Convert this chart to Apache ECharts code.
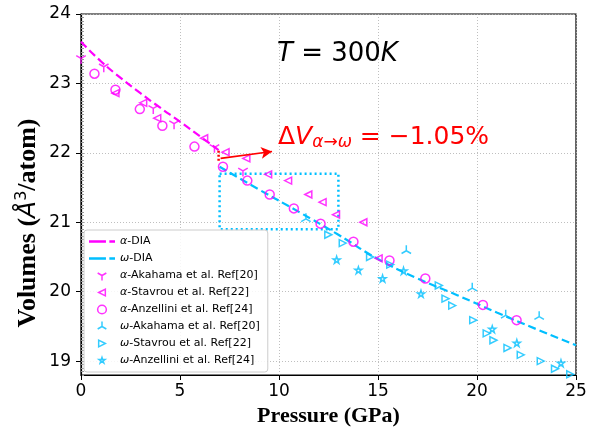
<!DOCTYPE html>
<html>
<head>
<meta charset="utf-8">
<script src="https://cdn.jsdelivr.net/npm/echarts@6/dist/echarts.min.js"></script>
<style>
html,body{margin:0;padding:0;background:#fff;}
#chart{width:603px;height:433px;}
</style>
</head>
<body>
<div id="chart"></div>
<script>
// ---- data ----
const xTicks = [0, 5, 10, 15, 20, 25];
const yTicks = [19, 20, 21, 22, 23, 24];

const alphaDIA_P = [0, 1, 2, 3, 4, 5, 6, 6.95];
const alphaDIA_V = [23.60, 23.32, 23.08, 22.86, 22.65, 22.45, 22.24, 22.04];

const omegaDIA_P = [7, 9, 11, 13, 15, 17, 19, 21, 23, 25];
const omegaDIA_V = [21.80, 21.47, 21.15, 20.82, 20.47, 20.19, 19.95, 19.70, 19.46, 19.23];

const alphaAkahama_P = [0.0, 1.15, 3.65, 4.70, 6.74, 8.18];
const alphaAkahama_V = [23.36, 23.24, 22.64, 22.42, 22.08, 21.74];

const alphaStavrou_P = [1.74, 3.14, 3.85, 6.22, 7.30, 8.35, 9.45, 10.46, 11.48, 12.20, 12.88, 14.26, 15.03];
const alphaStavrou_V = [22.86, 22.72, 22.50, 22.21, 22.01, 21.92, 21.69, 21.60, 21.40, 21.29, 21.11, 21.00, 20.48];

const alphaAnzellini_P = [0.68, 1.74, 2.97, 4.11, 5.73, 7.17, 8.40, 9.53, 10.75, 12.10, 13.76, 15.58, 17.39, 20.30, 22.00];
const alphaAnzellini_V = [23.14, 22.91, 22.63, 22.39, 22.09, 21.80, 21.60, 21.40, 21.20, 20.98, 20.72, 20.45, 20.19, 19.81, 19.59];

const omegaAkahama_P = [11.36, 16.43, 19.76, 21.45, 23.14];
const omegaAkahama_V = [21.05, 20.59, 20.05, 19.66, 19.64];

const omegaStavrou_P = [12.49, 13.22, 14.60, 15.62, 18.07, 18.41, 18.75, 19.81, 20.49, 20.83, 21.54, 22.21, 23.22, 23.94, 24.71];
const omegaStavrou_V = [20.82, 20.70, 20.50, 20.39, 20.09, 19.90, 19.80, 19.59, 19.40, 19.30, 19.19, 19.09, 19.00, 18.89, 18.81];

const omegaAnzellini_P = [12.91, 14.01, 15.23, 16.29, 17.17, 20.77, 22.01, 24.24];
const omegaAnzellini_V = [20.46, 20.31, 20.19, 20.30, 19.97, 19.46, 19.26, 18.97];

// transition annotations
const boxP = [7, 13, 13, 7, 7];
const boxV = [21.7, 21.7, 20.9, 20.9, 21.7];
const jumpP = [6.95, 6.95];
const jumpV = [22.03, 21.87];
const arrowP = [7.05, 9.65];
const arrowV = [21.92, 22.02];

const names = [
  'α-DIA', 'ω-DIA',
  'α-Akahama et al. Ref[20]', 'α-Stavrou et al. Ref[22]', 'α-Anzellini et al. Ref[24]',
  'ω-Akahama et al. Ref[20]', 'ω-Stavrou et al. Ref[22]', 'ω-Anzellini et al. Ref[24]'
];

// ---- styling ----
const MAG = '#ff00ff';
const CYA = '#00bfff';
const zip = (P, V) => P.map((p, i) => [p, V[i]]);

const SYM_TRI_DOWN = 'path://M0,0 L0,1 M0,0 L-0.866,-0.5 M0,0 L0.866,-0.5 M-1,-1 M1,1';
const SYM_TRI_UP = 'path://M0,0 L0,-1 M0,0 L-0.866,0.5 M0,0 L0.866,0.5 M-1,-1 M1,1';
const SYM_LEFT = 'path://M-1,0 L1,-1 L1,1 Z';
const SYM_RIGHT = 'path://M1,0 L-1,-1 L-1,1 Z';
const SYM_STAR = 'path://M0,-1 L0.2245,-0.309 L0.951,-0.309 L0.363,0.118 L0.588,0.809 L0,0.382 L-0.588,0.809 L-0.363,0.118 L-0.951,-0.309 L-0.2245,-0.309 Z';
// legend icons (padded so they appear at marker size)
const LEG_LEFT = 'path://M-1,0 L1,-1 L1,1 Z M-1.5,-1.5 M1.5,1.5';
const LEG_RIGHT = 'path://M1,0 L-1,-1 L-1,1 Z M-1.5,-1.5 M1.5,1.5';
const LEG_STAR = 'path://M0,-1 L0.2245,-0.309 L0.951,-0.309 L0.363,0.118 L0.588,0.809 L0,0.382 L-0.588,0.809 L-0.363,0.118 L-0.951,-0.309 L-0.2245,-0.309 Z M-1.6,-1.6 M1.6,1.6';
const LEG_CIRCLE = 'path://M1,0 A1,1 0 1,1 -1,0 A1,1 0 1,1 1,0 Z M-1.15,-1.15 M1.15,1.15';
const LEG_DASH = 'path://M0,0 h15 v2.2 h-15 z M18,0 h5 v2.2 h-5 z';

function scatter(name, P, V, symbol, size, color) {
  return {
    name, type: 'scatter', data: zip(P, V), symbol, symbolSize: size,
    itemStyle: { color: 'rgba(0,0,0,0)', borderColor: color, borderWidth: 1.5 },
    emphasis: { disabled: true }, z: 4
  };
}

const minorTicks = [];
for (let v = 18.8; v <= 24.0001; v += 0.05) minorTicks.push(Math.round(v * 100) / 100);

const chart = echarts.init(document.getElementById('chart'), null, { renderer: 'canvas' });

const legIcons = [LEG_DASH, LEG_DASH, SYM_TRI_DOWN, LEG_LEFT, LEG_CIRCLE, SYM_TRI_UP, LEG_RIGHT, LEG_STAR];
const legendData = names.map((n, i) => {
  const col = n[0] === 'α' ? MAG : CYA;
  if (i < 2) return { name: n, icon: legIcons[i], itemStyle: { color: col, borderWidth: 0 } };
  return { name: n, icon: legIcons[i], itemStyle: { color: 'rgba(0,0,0,0)', borderColor: col, borderWidth: 1.5 } };
});

chart.setOption({
  animation: false,
  backgroundColor: '#fff',
  grid: { left: 81, right: 27, top: 14, bottom: 58, show: true, borderColor: '#000', borderWidth: 1.2, backgroundColor: 'transparent' },
  xAxis: {
    type: 'value', min: xTicks[0], max: xTicks[xTicks.length - 1], interval: 5,
    name: 'Pressure (GPa)', nameLocation: 'middle', nameGap: 19,
    nameTextStyle: { fontFamily: 'Liberation Serif', fontWeight: 'bold', fontSize: 22, color: '#000' },
    axisLine: { lineStyle: { color: '#000', width: 1.2 } },
    axisTick: { length: 5, lineStyle: { color: '#000', width: 1 } },
    axisLabel: { fontFamily: 'DejaVu Sans', fontSize: 17, color: '#000', margin: 8 },
    splitLine: { show: true, lineStyle: { type: [1, 2], color: '#b8b8b8', width: 0.9 } }
  },
  yAxis: [{
    type: 'value', min: 18.8, max: 24,
    axisLine: { show: true, lineStyle: { color: '#000', width: 1.2 } },
    axisTick: { show: true, length: 5, customValues: yTicks, lineStyle: { color: '#000', width: 1 } },
    axisLabel: { fontFamily: 'DejaVu Sans', fontSize: 17, color: '#000', margin: 10, customValues: yTicks },
    splitLine: { show: true, lineStyle: { type: [1, 2], color: '#b8b8b8', width: 0.9 } }
  }, {
    type: 'value', min: 18.8, max: 24, position: 'left',
    axisLine: { show: false },
    axisLabel: { show: false },
    splitLine: { show: false },
    axisTick: { show: true, inside: true, length: 3, customValues: minorTicks, lineStyle: { color: '#999', width: 1 } }
  }],
  legend: {
    orient: 'vertical', left: 84, top: 230,
    data: legendData,
    itemWidth: 26, itemHeight: 10, itemGap: 4,
    padding: [5, 8, 5, 5],
    backgroundColor: 'rgba(255,255,255,0.85)',
    borderColor: '#cccccc', borderWidth: 1, borderRadius: 3,
    selectedMode: false,
    formatter: n => '{i|' + n[0] + '}' + n.slice(1),
    textStyle: {
      fontFamily: 'DejaVu Sans', fontSize: 11, color: '#000', lineHeight: 13,
      rich: { i: { fontStyle: 'italic', fontFamily: 'DejaVu Sans', fontSize: 11, lineHeight: 13 } }
    }
  },
  graphic: [
    {
      type: 'text', x: 28, y: 223, rotation: Math.PI / 2, z: 10,
      style: {
        text: '{b|Volumes (}{i|Å}{s|3}{b|/atom)}',
        align: 'center', verticalAlign: 'middle',
        rich: {
          b: { fontFamily: 'Liberation Serif', fontWeight: 'bold', fontSize: 26, fill: '#000', lineHeight: 30 },
          i: { fontFamily: 'DejaVu Sans', fontStyle: 'italic', fontSize: 25, fill: '#000', lineHeight: 30 },
          s: { fontFamily: 'DejaVu Sans', fontSize: 16, fill: '#000', lineHeight: 18, padding: [0, 0, 12, 0] }
        }
      }
    },
    {
      type: 'text', left: 277, top: 41, z: 10,
      style: {
        text: '{i|T} = 300{i|K}',
        fontFamily: 'DejaVu Sans', fontSize: 26, fill: '#000',
        rich: { i: { fontFamily: 'DejaVu Sans', fontStyle: 'italic', fontSize: 26, fill: '#000' } }
      }
    },
    {
      type: 'text', left: 278, top: 123, z: 10,
      style: {
        text: '{d|Δ}{v|V}{s|α→ω}{d| = −1.05%}',
        fontFamily: 'DejaVu Sans', fontSize: 25, fill: '#ff0000',
        rich: {
          d: { fontFamily: 'DejaVu Sans', fontSize: 25, fill: '#ff0000', lineHeight: 30 },
          v: { fontFamily: 'DejaVu Sans', fontStyle: 'italic', fontSize: 25, fill: '#ff0000', lineHeight: 30 },
          s: { fontFamily: 'DejaVu Sans', fontStyle: 'italic', fontSize: 17, fill: '#ff0000', lineHeight: 20, padding: [11, 0, 0, 0] }
        }
      }
    }
  ],
  series: [
    {
      name: names[0], type: 'line', data: zip(alphaDIA_P, alphaDIA_V), smooth: true, symbol: 'none',
      lineStyle: { color: MAG, width: 2.2, type: [8, 4] }, itemStyle: { color: MAG }, z: 3
    },
    {
      name: names[1], type: 'line', data: zip(omegaDIA_P, omegaDIA_V), smooth: true, symbol: 'none',
      lineStyle: { color: CYA, width: 2.2, type: [8, 4] }, itemStyle: { color: CYA }, z: 3
    },
    scatter(names[2], alphaAkahama_P, alphaAkahama_V, SYM_TRI_DOWN, 11, MAG),
    scatter(names[3], alphaStavrou_P, alphaStavrou_V, SYM_LEFT, 7, MAG),
    scatter(names[4], alphaAnzellini_P, alphaAnzellini_V, 'circle', 9, MAG),
    scatter(names[5], omegaAkahama_P, omegaAkahama_V, SYM_TRI_UP, 11, CYA),
    scatter(names[6], omegaStavrou_P, omegaStavrou_V, SYM_RIGHT, 7, CYA),
    scatter(names[7], omegaAnzellini_P, omegaAnzellini_V, SYM_STAR, 7, CYA),
    {
      name: 'box', type: 'line', data: zip(boxP, boxV), symbol: 'none',
      lineStyle: { color: CYA, width: 2.5, type: [2, 3] }, z: 2, silent: true
    },
    {
      name: 'jump', type: 'line', data: zip(jumpP, jumpV), symbol: 'none',
      lineStyle: { color: '#ff0000', width: 2.5, type: [2, 2] }, z: 5, silent: true
    },
    {
      name: 'arrow', type: 'line', data: [], symbol: 'none', silent: true,
      markLine: {
        silent: true, symbol: ['none', 'arrow'], symbolSize: [9, 11],
        label: { show: false },
        lineStyle: { color: '#ff0000', width: 1.6, type: 'solid' },
        data: [[{ coord: [arrowP[0], arrowV[0]] }, { coord: [arrowP[1], arrowV[1]] }]]
      }
    }
  ]
});
</script>
</body>
</html>
